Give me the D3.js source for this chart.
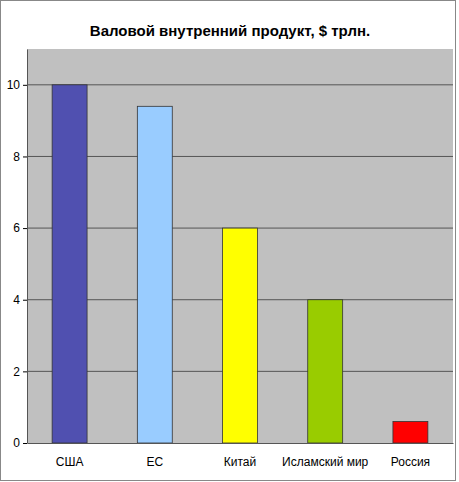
<!DOCTYPE html>
<html><head><meta charset="utf-8">
<script src="https://cdn.jsdelivr.net/npm/d3@7"></script>
<style>body{margin:0;background:#fff}</style>
</head><body>
<div id="chart"></div>
<script>
const categories = ["США", "ЕС", "Китай", "Исламский мир", "Россия"];
const values = [10, 9.4, 6, 4, 0.6];
const colors = ["#5050b0", "#99ccff", "#ffff00", "#99cc00", "#ff0000"];
const yTicks = [0, 2, 4, 6, 8, 10];

const margin = { top: 49, right: 6, bottom: 39, left: 27 };
const W = 459, H = 482;
const width = W - margin.left - margin.right;
const height = H - margin.top - margin.bottom;

const svg = d3.select("#chart").append("svg")
    .attr("width", W).attr("height", H)
    .style("font-family", "Arial, 'Liberation Sans', sans-serif");

// рамка всей диаграммы
svg.append("rect").attr("x", 0.5).attr("y", 0.5).attr("width", W - 4).attr("height", H - 2)
    .attr("fill", "#fff").attr("stroke", "#888");

svg.append("text").attr("x", 230).attr("y", 36).attr("text-anchor", "middle")
    .style("font-size", "15px").style("font-weight", "bold")
    .text("Валовой внутренний продукт, $ трлн.");

const g = svg.append("g").attr("transform", `translate(${margin.left},${margin.top})`);

const x = d3.scaleBand().domain(categories).range([0, width]).paddingInner(0.59).paddingOuter(0.295);
const y = d3.scaleLinear().domain([0, 11]).range([height, 0]);

g.append("rect").attr("width", width).attr("height", height).attr("fill", "#c0c0c0");

g.selectAll(".grid").data(yTicks.filter(d => d > 0)).join("line")
    .attr("x1", 0).attr("x2", width)
    .attr("y1", d => y(d)).attr("y2", d => y(d))
    .attr("stroke", "#555").attr("stroke-width", 1);

g.selectAll(".bar").data(values).join("rect")
    .attr("x", (d, i) => x(categories[i]))
    .attr("y", d => y(d))
    .attr("width", x.bandwidth())
    .attr("height", d => height - y(d))
    .attr("fill", (d, i) => colors[i])
    .attr("stroke", "#333").attr("stroke-width", 0.8);

// Ось Y
const yAxis = g.append("g").call(d3.axisLeft(y).tickValues(yTicks).tickSize(4).tickSizeOuter(0));
yAxis.selectAll("text").style("font-size", "12px").attr("fill", "#000");
yAxis.select(".domain").attr("stroke", "#555");

// Ось X
const xAxis = g.append("g").attr("transform", `translate(0,${height})`)
    .call(d3.axisBottom(x).tickSize(0).tickPadding(14));
xAxis.selectAll("text").style("font-size", "12px").attr("fill", "#000");
xAxis.select(".domain").attr("stroke", "#555");
</script>
</body></html>
